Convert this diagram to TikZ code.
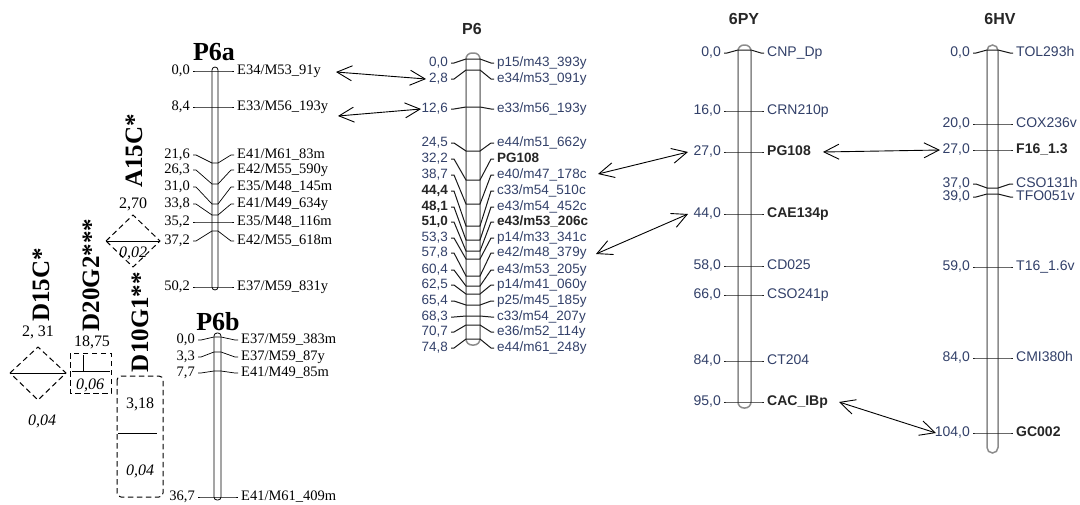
\documentclass[tikz,border=0pt]{standalone}
\usepackage{fontspec}
\setmainfont{Liberation Serif}
\newfontfamily\arialf{Liberation Sans}
\usetikzlibrary{arrows.meta}
\definecolor{mtext}{RGB}{50,64,105}
\definecolor{bargray}{RGB}{140,140,140}
\definecolor{tickdark}{RGB}{25,25,25}
\newcommand\mapgeom[5]{\def\gA{#1}\def\gB{#2}\def\gC{#3}\def\gD{#4}\def\gS{#5}}
\newcommand\mrk[8]{%
  \draw[#8] (\gA,#2) -- ({\gA+\gS},#2) -- (\gB,#3) -- (\gC,#3) -- ({\gD-\gS},#2) -- (\gD,#2);
  \node[#4, anchor=east] (#1n) at ({\gA-3},#2) {#5};
  \node[#6, anchor=west] (#1l) at ({\gD+3},#2) {#7};
}
\tikzset{
  lnum/.style={font=\fontsize{14.5}{16}\selectfont, inner sep=0pt, text height=0.66em, text depth=0pt},
  qnum/.style={font=\fontsize{16}{18}\selectfont, inner sep=0pt, text height=0.66em, text depth=0pt},
  qit/.style={font=\itshape\fontsize{16}{18}\selectfont, inner sep=0pt, text height=0.66em, text depth=0pt},
  qname/.style={font=\bfseries\fontsize{25}{27}\selectfont, rotate=90, inner sep=0pt},
  ttlL/.style={font=\bfseries\fontsize{26}{28}\selectfont, inner sep=0pt},
  ttlR/.style={font=\arialf\bfseries\fontsize{16}{18}\selectfont, inner sep=0pt, text=black!85},
  rtxt/.style={font=\arialf\fontsize{13.5}{15}\selectfont, text=mtext, inner sep=0pt, text height=0.72em, text depth=0pt},
  rtxtb/.style={rtxt, font=\arialf\bfseries\fontsize{13.5}{15}\selectfont, text=black!85},
  stxt/.style={font=\arialf\fontsize{14}{16}\selectfont, text=mtext, inner sep=0pt, text height=0.72em, text depth=0pt},
  stxtb/.style={stxt, font=\arialf\bfseries\fontsize{14}{16}\selectfont, text=black!85},
  ltick/.style={draw=black, line width=0.7pt},
  rtick/.style={draw=tickdark, line width=1pt},
  thinbar/.style={draw=black, fill=white, line width=0.8pt, rounded corners=3},
  graybar/.style={draw=bargray, fill=white, line width=1.5pt, rounded corners=6},
  qtl/.style={draw=black, line width=1pt, dash pattern=on 5.5pt off 3.5pt},
  peak/.style={draw=black, line width=0.9pt},
  dbl/.style={{Straight Barb[length=15pt,width=15pt]}-{Straight Barb[length=15pt,width=15pt]}, line width=0.9pt},
}
\begin{document}
\begin{tikzpicture}[x=1pt,y=-1pt]
\useasboundingbox (0,0) rectangle (1080,504);
\fill[white] (0,0) rectangle (1080,504);

% ---------------- P6a ----------------
\node[ttlL] (tP6a) at (214,52) {P6a};
\draw[thinbar] (212,67) rectangle (218,290);
\mapgeom{193}{212}{218}{234}{3}
\mrk{a1}{71}{71}{lnum}{0,0}{lnum}{E34/M53\_91y}{ltick}
\mrk{a2}{107}{107}{lnum}{8,4}{lnum}{E33/M56\_193y}{ltick}
\mrk{a3}{155}{163}{lnum}{21,6}{lnum}{E41/M61\_83m}{ltick}
\mrk{a4}{170}{184}{lnum}{26,3}{lnum}{E42/M55\_590y}{ltick}
\mrk{a5}{187}{204}{lnum}{31,0}{lnum}{E35/M48\_145m}{ltick}
\mrk{a6}{204}{215}{lnum}{33,8}{lnum}{E41/M49\_634y}{ltick}
\mrk{a7}{222}{222}{lnum}{35,2}{lnum}{E35/M48\_116m}{ltick}
\mrk{a8}{241}{231}{lnum}{37,2}{lnum}{E42/M55\_618m}{ltick}
\mrk{a9}{287}{287}{lnum}{50,2}{lnum}{E37/M59\_831y}{ltick}

% ---------------- P6b ----------------
\node[ttlL] (tP6b) at (218,322) {P6b};
\draw[thinbar] (214,333) rectangle (221,500);
\mapgeom{198}{214}{221}{238}{3}
\mrk{b1}{340}{337}{lnum}{0,0}{lnum}{E37/M59\_383m}{ltick}
\mrk{b2}{357}{352}{lnum}{3,3}{lnum}{E37/M59\_87y}{ltick}
\mrk{b3}{373}{371}{lnum}{7,7}{lnum}{E41/M49\_85m}{ltick}
\mrk{b4}{497}{497}{lnum}{36,7}{lnum}{E41/M61\_409m}{ltick}

% ---------------- QTL ----------------
\node[qname] (qA) at (134,151) {A15C*};
\node[qnum] (qA1) at (133,205) {2,70};
\draw[qtl] (106,241) -- (133,215) -- (160,241) -- (133,267) -- cycle;
\draw[peak] (106,241) -- (160,241);
\node[qit] (qA2) at (133,254) {0,02};

\node[qname] (qD) at (41,285) {D15C*};
\node[qnum] (qD1) at (38,333) {2, 31};
\draw[qtl] (10,373) -- (38,347) -- (66,373) -- (38,400) -- cycle;
\draw[peak] (10,373) -- (66,373);
\node[qit] (qD2) at (42,422) {0,04};

\node[qname] (qG) at (91,275) {D20G2***};
\node[qnum] (qG1) at (92,343) {18,75};
\draw[qtl] (70,353) rectangle (111,393);
\draw[peak] (72,371) -- (110,371);
\draw[peak] (83,355) -- (83,371);
\node[qit] (qG2) at (90,386) {0,06};

\node[qname] (qH) at (140,322) {D10G1**};
\draw[qtl, rounded corners=4] (117,376) rectangle (163,497);
\draw[peak] (118,433) -- (157,433);
\node[qnum] (qH1) at (140,405) {3,18};
\node[qit] (qH2) at (140,472) {0,04};

% ---------------- P6 ----------------
\node[ttlR] (tP6) at (472,29) {P6};
\draw[graybar] (466,53) rectangle (480,345);
\mapgeom{451}{466}{480}{494}{3}
\mrk{p1}{63}{59}{rtxt}{0,0}{rtxt}{p15/m43\_393y}{rtick}
\mrk{p2}{79}{70}{rtxt}{2,8}{rtxt}{e34/m53\_091y}{rtick}
\mrk{p3}{109}{107}{rtxt}{12,6}{rtxt}{e33/m56\_193y}{rtick}
\mrk{p4}{143}{151}{rtxt}{24,5}{rtxt}{e44/m51\_662y}{rtick}
\mrk{p5}{159}{180}{rtxt}{32,2}{rtxtb}{PG108}{rtick}
\mrk{p6}{175}{204}{rtxt}{38,7}{rtxt}{e40/m47\_178c}{rtick}
\mrk{p7}{191}{226}{rtxtb}{44,4}{rtxt}{c33/m54\_510c}{rtick}
\mrk{p8}{207}{240}{rtxtb}{48,1}{rtxt}{e43/m54\_452c}{rtick}
\mrk{p9}{222}{251}{rtxtb}{51,0}{rtxtb}{e43/m53\_206c}{rtick}
\mrk{p10}{238}{259}{rtxt}{53,3}{rtxt}{p14/m33\_341c}{rtick}
\mrk{p11}{253}{276}{rtxt}{57,8}{rtxt}{e42/m48\_379y}{rtick}
\mrk{p12}{270}{286}{rtxt}{60,4}{rtxt}{e43/m53\_205y}{rtick}
\mrk{p13}{285}{294}{rtxt}{62,5}{rtxt}{p14/m41\_060y}{rtick}
\mrk{p14}{301}{305}{rtxt}{65,4}{rtxt}{p25/m45\_185y}{rtick}
\mrk{p15}{317}{316}{rtxt}{68,3}{rtxt}{c33/m54\_207y}{rtick}
\mrk{p16}{332}{325}{rtxt}{70,7}{rtxt}{e36/m52\_114y}{rtick}
\mrk{p17}{348}{339}{rtxt}{74,8}{rtxt}{e44/m61\_248y}{rtick}

% ---------------- 6PY ----------------
\node[ttlR] (t6PY) at (744,19) {6PY};
\draw[graybar] (738,45) rectangle (751,408);
\mapgeom{724}{738}{751}{764}{3}
\mrk{y1}{53}{50}{stxt}{0,0}{stxt}{CNP\_Dp}{rtick}
\mrk{y2}{111}{111}{stxt}{16,0}{stxt}{CRN210p}{rtick}
\mrk{y3}{152}{152}{stxt}{27,0}{stxtb}{PG108}{rtick}
\mrk{y4}{214}{214}{stxt}{44,0}{stxtb}{CAE134p}{rtick}
\mrk{y5}{266}{266}{stxt}{58,0}{stxt}{CD025}{rtick}
\mrk{y6}{295}{295}{stxt}{66,0}{stxt}{CSO241p}{rtick}
\mrk{y7}{361}{361}{stxt}{84,0}{stxt}{CT204}{rtick}
\mrk{y8}{402}{402}{stxt}{95,0}{stxtb}{CAC\_IBp}{rtick}

% ---------------- 6HV ----------------
\node[ttlR] (t6HV) at (1000,19) {6HV};
\draw[graybar, rounded corners=5.5] (987,45) rectangle (998,453);
\mapgeom{973}{987}{998}{1013}{3}
\mrk{h1}{53}{50}{stxt}{0,0}{stxt}{TOL293h}{rtick}
\mrk{h2}{124}{124}{stxt}{20,0}{stxt}{COX236v}{rtick}
\mrk{h3}{150}{150}{stxt}{27,0}{stxtb}{F16\_1.3}{rtick}
\mrk{h4}{184}{188}{stxt}{37,0}{stxt}{CSO131h}{rtick}
\mrk{h5}{197}{194}{stxt}{39,0}{stxt}{TFO051v}{rtick}
\mrk{h6}{267}{267}{stxt}{59,0}{stxt}{T16\_1.6v}{rtick}
\mrk{h7}{358}{358}{stxt}{84,0}{stxt}{CMI380h}{rtick}
\mrk{h8}{433}{433}{stxt}{104,0}{stxtb}{GC002}{rtick}

% ---------------- arrows ----------------
\coordinate (r1a) at (336,72);  \coordinate (r1b) at (426,79);
\coordinate (r2a) at (338,116); \coordinate (r2b) at (421,109);
\coordinate (r3a) at (598,174); \coordinate (r3b) at (688,152);
\coordinate (r4a) at (596,254); \coordinate (r4b) at (688,214);
\coordinate (r5a) at (823,152); \coordinate (r5b) at (940,150);
\coordinate (r6a) at (839,402); \coordinate (r6b) at (936,433);
\draw[dbl] (r1a) -- (r1b);
\draw[dbl] (r2a) -- (r2b);
\draw[dbl] (r3a) -- (r3b);
\draw[dbl] (r4a) -- (r4b);
\draw[dbl] (r5a) -- (r5b);
\draw[dbl] (r6a) -- (r6b);
\end{tikzpicture}
\end{document}
